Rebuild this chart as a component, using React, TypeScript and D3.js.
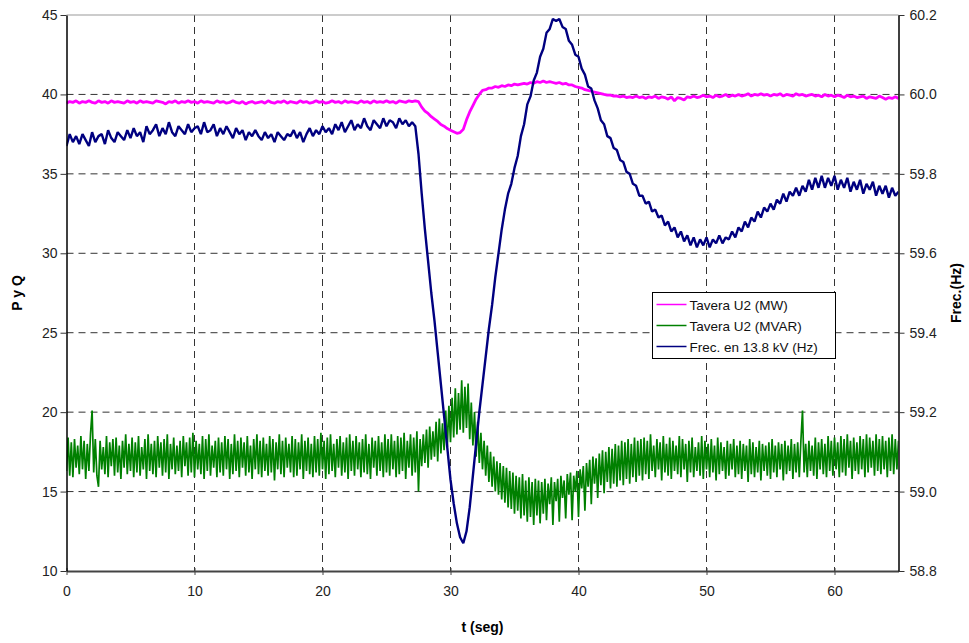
import React, { useEffect, useRef } from "react";
import * as d3 from "d3";

// sample steps of the recorded signals (seconds)
const T_STEP = 0.25;
const MVAR_STEP = 0.125;

const xTicks = [0, 10, 20, 30, 40, 50, 60];
const leftTicks = [10, 15, 20, 25, 30, 35, 40, 45];
const rightTicks = [58.8, 59.0, 59.2, 59.4, 59.6, 59.8, 60.0, 60.2];

const seriesNames = ["Tavera U2 (MW)", "Tavera U2 (MVAR)", "Frec. en 13.8 kV (Hz)"];
const seriesColors = ["#ff00ff", "#008000", "#000080"];

// Tavera U2 (MW), left axis
const mw = [
  39.45, 39.55, 39.5, 39.6, 39.45, 39.55, 39.5, 39.6, 39.5, 39.45, 39.6, 39.5, 39.55, 39.45, 39.6, 39.5, 39.55, 39.5, 39.45, 39.6,
  39.5, 39.55, 39.45, 39.6, 39.5, 39.55, 39.5, 39.45, 39.6, 39.55, 39.5, 39.4, 39.55, 39.5, 39.6, 39.45, 39.55, 39.5, 39.6, 39.5,
  39.55, 39.45, 39.6, 39.5, 39.55, 39.5, 39.45, 39.6, 39.5, 39.55, 39.45, 39.5, 39.6, 39.5, 39.45, 39.55, 39.4, 39.5, 39.55, 39.45,
  39.5, 39.55, 39.45, 39.6, 39.5, 39.45, 39.55, 39.5, 39.6, 39.45, 39.55, 39.5, 39.45, 39.6, 39.5, 39.55, 39.45, 39.5, 39.6, 39.5,
  39.55, 39.45, 39.5, 39.6, 39.5, 39.55, 39.45, 39.6, 39.5, 39.55, 39.5, 39.45, 39.6, 39.5, 39.55, 39.45, 39.6, 39.5, 39.55, 39.5,
  39.6, 39.5, 39.55, 39.45, 39.6, 39.55, 39.5, 39.6, 39.55, 39.6,
  39.55, 39.2, 38.95, 38.8, 38.6, 38.45, 38.3, 38.1, 38.0, 37.85, 37.75, 37.65, 37.55, 37.6, 37.8, 38.4, 38.9, 39.3, 39.7, 40.0,
  40.25, 40.3, 40.4, 40.4, 40.5, 40.45, 40.55, 40.5, 40.6, 40.55, 40.65, 40.6, 40.65, 40.7, 40.65, 40.75, 40.7, 40.8, 40.75, 40.85,
  40.75, 40.8, 40.75, 40.7, 40.75, 40.65, 40.7, 40.6, 40.6, 40.5, 40.45, 40.4, 40.3, 40.25, 40.2, 40.15, 40.1, 40.05, 40.0, 39.95,
  39.95, 39.9, 39.9, 39.85, 39.9, 39.8, 39.85, 39.8, 39.9, 39.8, 39.85,
  39.75, 39.85, 39.8, 39.9, 39.75, 39.85, 39.8, 39.7, 39.85, 39.6, 39.8, 39.75, 39.65, 39.85, 39.8, 39.9, 39.8, 39.85, 39.95, 39.85,
  39.9, 39.8, 39.95, 39.85, 39.9, 40.0, 39.85, 39.95, 39.9, 40.0, 39.9, 39.95, 40.05, 39.9, 40.0, 39.95, 40.05, 39.95, 40.0, 39.9,
  40.0, 39.95, 40.05, 39.9, 40.0, 39.95, 39.9, 40.05, 39.95, 40.0, 39.9, 39.95, 40.0, 39.9, 39.95, 39.85, 40.0, 39.9, 39.95, 39.85,
  39.95, 39.9, 39.8, 39.95, 39.85, 39.9, 39.8, 39.85, 39.9, 39.75, 39.85, 39.8, 39.75, 39.9, 39.8, 39.7, 39.8, 39.75, 39.85, 39.75,
];

// Tavera U2 (MVAR), left axis, sampled every MVAR_STEP
const mvar = [
  16.3, 18.4, 16.0, 18.1, 15.9, 18.3, 16.5, 17.9, 16.1, 18.5, 16.4, 18.2, 15.8, 18.0, 16.3, 18.6, 20.1, 16.2, 18.3, 16.0,
  15.3, 18.2, 16.4, 17.8, 16.1, 18.5, 15.9, 18.1, 16.6, 18.3, 16.0, 18.4, 16.2, 17.9, 15.8, 18.2, 16.5, 18.6, 16.1, 18.0,
  16.3, 18.4, 15.9, 18.1, 16.2, 18.5, 16.0, 17.8, 16.4, 18.3, 15.8, 18.6, 16.3, 18.0, 16.1, 18.2, 15.9, 18.5, 16.5, 18.1,
  16.0, 18.3, 16.2, 18.6, 15.8, 18.0, 16.4, 18.4, 16.1, 17.9, 16.3, 18.2, 15.9, 18.5, 16.6, 18.1, 16.0, 18.4, 16.2, 18.7,
  15.9, 18.2, 16.4, 18.0, 16.1, 18.5, 15.8, 18.3, 16.3, 18.6, 16.0, 17.9, 16.5, 18.2, 15.9, 18.4, 16.2, 18.1, 16.0, 18.5,
  16.4, 18.3, 15.8, 18.0, 16.1, 18.6, 16.3, 18.2, 15.9, 18.4, 16.5, 18.1, 16.0, 18.5, 16.2, 17.9, 15.8, 18.3, 16.4, 18.6,
  16.1, 18.2, 15.9, 18.4, 16.3, 18.0, 16.0, 18.5, 16.2, 18.3, 15.7, 18.1, 16.4, 18.6, 16.1, 18.2, 15.9, 18.4, 16.5, 18.0,
  16.2, 18.5, 15.9, 18.3, 16.0, 18.1, 16.4, 18.6, 15.8, 18.2, 16.3, 18.4, 16.1, 18.0, 15.9, 18.5, 16.2, 18.3, 16.0, 18.7,
  16.4, 18.2, 15.8, 18.4, 16.1, 18.6, 16.3, 18.0, 15.9, 18.3, 16.5, 18.5, 16.0, 18.1, 16.2, 18.4, 15.8, 18.6, 16.3, 18.2,
  16.0, 18.5, 16.4, 18.1, 15.9, 18.3, 16.2, 18.6, 16.1, 18.0, 15.8, 18.4, 16.5, 18.2, 16.0, 18.5, 16.3, 18.1, 15.9, 18.6,
  16.2, 18.3, 16.0, 18.6, 16.4, 18.2, 15.9, 18.5, 16.1, 18.4, 16.3, 18.7, 15.8, 18.2, 16.5, 18.6, 16.0, 18.4, 16.2, 18.8,
  15.0, 18.3, 16.6, 18.6, 16.8, 18.9, 16.5, 19.1, 17.0, 18.8, 17.2, 19.4, 16.9, 19.6, 17.4, 19.3, 17.6, 20.1, 17.8, 20.4,
  18.1, 20.9, 18.4, 21.5, 18.6, 21.2, 18.9, 22.0, 18.7, 21.6, 19.0, 21.8, 18.3, 20.6, 17.9, 20.0, 17.2, 19.4, 16.8, 18.7,
  16.4, 18.2, 16.0, 17.9, 15.6, 17.5, 15.3, 17.2, 15.0, 16.9, 14.8, 16.8, 14.5, 16.6, 14.3, 16.5, 14.0, 16.3, 13.9, 16.2,
  13.6, 16.0, 13.8, 15.9, 13.3, 16.1, 13.5, 15.7, 13.1, 15.9, 13.4, 15.6, 12.9, 15.8, 13.5, 15.7, 13.0, 15.6, 13.6, 15.8,
  13.2, 15.5, 14.2, 15.9, 12.9, 15.6, 14.4, 15.8, 13.1, 16.0, 14.6, 15.7, 13.3, 16.1, 14.8, 16.2, 13.2, 16.0, 15.0, 16.3,
  13.4, 16.4, 15.2, 16.6, 13.8, 16.8, 15.3, 17.0, 14.2, 17.2, 15.5, 17.1, 14.6, 17.4, 15.4, 17.6, 14.9, 17.5, 15.6, 17.8,
  15.2, 17.7, 15.5, 18.0, 15.3, 17.9, 15.7, 18.2, 15.4, 18.1, 15.8, 18.3, 15.5, 18.0, 15.9, 18.4, 15.6, 18.2, 16.0, 18.3,
  15.7,
  18.4, 16.1, 18.2, 15.8, 18.6, 16.3, 17.9, 15.9, 18.3, 16.4, 18.1, 15.7, 18.5, 16.2, 18.0, 16.0, 18.4, 15.8, 18.2, 16.3,
  17.9, 16.1, 18.5, 15.9, 18.3, 16.4, 18.0, 15.6, 18.2, 16.2, 18.4, 15.9, 17.8, 16.3, 18.1, 16.0, 18.5, 15.8, 18.2, 16.4,
  18.0, 15.9, 18.3, 16.2, 17.9, 15.7, 18.4, 16.1, 18.1, 16.3, 17.8, 15.8, 18.2, 16.0, 18.0, 16.4, 18.3, 15.9, 17.9, 16.1,
  18.2, 15.8, 18.0, 16.3, 17.9, 15.6, 18.3, 16.1, 18.1, 15.9, 17.8, 16.2, 18.2, 15.7, 18.0, 16.3, 17.9, 16.0, 18.1, 15.8,
  18.3, 16.2, 17.9, 15.9, 18.1, 16.4, 18.0, 15.7, 18.2, 16.1, 17.9, 16.3, 18.3, 15.8, 18.0, 16.2, 18.1, 15.9, 18.2, 20.1,
  16.2, 18.0, 15.9, 18.2, 16.3, 17.9, 16.0, 18.4, 15.8, 18.1, 16.4, 18.3, 16.1, 18.0, 15.9, 18.5, 16.3, 18.2, 16.0, 18.4,
  16.4, 18.1, 15.9, 18.5, 16.2, 18.3, 16.0, 18.6, 16.5, 18.2, 15.8, 18.4, 16.3, 18.1, 16.1, 18.5, 16.4, 18.3, 15.9, 18.6,
  16.2, 18.4, 16.5, 18.2, 16.0, 18.6, 16.3, 18.3, 16.1, 18.5, 16.4, 18.2, 15.9, 18.4, 16.3, 18.6, 16.1, 18.3, 16.4, 18.2,
];

// Frec. en 13.8 kV (Hz), right axis
const freq = [
  59.87, 59.9, 59.88, 59.895, 59.875, 59.9, 59.885, 59.87, 59.905, 59.88, 59.895, 59.9, 59.875, 59.91, 59.89, 59.88, 59.905, 59.895, 59.885, 59.91,
  59.89, 59.915, 59.895, 59.905, 59.88, 59.92, 59.9, 59.91, 59.925, 59.895, 59.915, 59.9, 59.93, 59.905, 59.895, 59.92, 59.91, 59.9, 59.925, 59.905,
  59.915, 59.92, 59.9, 59.93, 59.905, 59.91, 59.925, 59.895, 59.915, 59.9, 59.92, 59.905, 59.89, 59.915, 59.9, 59.91, 59.885, 59.905, 59.895, 59.91,
  59.895, 59.885, 59.905, 59.89, 59.9, 59.88, 59.905, 59.895, 59.885, 59.9, 59.895, 59.91, 59.89, 59.905, 59.88, 59.9, 59.915, 59.895, 59.91, 59.9,
  59.92, 59.905, 59.915, 59.9, 59.925, 59.91, 59.93, 59.905, 59.92, 59.935, 59.91, 59.925, 59.915, 59.94, 59.92, 59.91, 59.935, 59.925, 59.915, 59.94,
  59.92, 59.935, 59.93, 59.915, 59.94, 59.925, 59.935, 59.92, 59.93, 59.92,
  59.85, 59.75, 59.66, 59.58, 59.5, 59.43, 59.35, 59.27, 59.19, 59.11, 59.03, 58.97, 58.92, 58.885, 58.87, 58.9, 58.96, 59.04, 59.12, 59.2,
  59.27, 59.34, 59.41, 59.47, 59.54, 59.6, 59.66, 59.71, 59.75, 59.775, 59.815, 59.845, 59.895, 59.925, 59.975, 59.995, 60.035, 60.055, 60.095, 60.115,
  60.155, 60.165, 60.19, 60.185, 60.19, 60.17, 60.165, 60.135, 60.125, 60.1, 60.095, 60.065, 60.05, 60.02, 60.015, 59.985, 59.965, 59.935, 59.925, 59.895,
  59.89, 59.865, 59.86, 59.835, 59.83, 59.805, 59.8, 59.775, 59.77, 59.745, 59.745,
  59.725, 59.73, 59.705, 59.71, 59.69, 59.695, 59.67, 59.68, 59.655, 59.665, 59.64, 59.655, 59.63, 59.645, 59.62, 59.64, 59.615, 59.635, 59.62, 59.64,
  59.615, 59.635, 59.625, 59.645, 59.625, 59.64, 59.635, 59.655, 59.64, 59.665, 59.655, 59.68, 59.665, 59.69, 59.68, 59.705, 59.69, 59.715, 59.705, 59.725,
  59.71, 59.735, 59.725, 59.75, 59.73, 59.755, 59.745, 59.765, 59.745, 59.77, 59.755, 59.785, 59.76, 59.79, 59.765, 59.795, 59.765, 59.79, 59.77, 59.795,
  59.76, 59.785, 59.765, 59.79, 59.755, 59.78, 59.76, 59.785, 59.75, 59.775, 59.76, 59.78, 59.745, 59.77, 59.75, 59.77, 59.74, 59.765, 59.745, 59.755,
];

const FONT = "'Liberation Sans', Arial, sans-serif";

const Chart = ({ width, height }) => {
  const svgRef = useRef(null);

  useEffect(() => {
    const margin = { top: 15, right: 70.5, bottom: 72, left: 66.5 };
    const innerWidth = width - margin.left - margin.right;
    const innerHeight = height - margin.top - margin.bottom;

    const svg = d3.select(svgRef.current).attr("width", width).attr("height", height);
    svg.selectAll("*").remove();

    const g = svg.append("g").attr("transform", `translate(${margin.left},${margin.top})`);

    const xScale = d3.scaleLinear().domain([0, 65]).range([0, innerWidth]);
    const yLeft = d3.scaleLinear().domain([10, 45]).range([innerHeight, 0]);
    const yRight = d3.scaleLinear().domain([58.8, 60.2]).range([innerHeight, 0]);

    // dashed gridlines
    g.selectAll(".hgrid")
      .data(leftTicks.filter((d) => d > 10 && d < 45))
      .enter()
      .append("line")
      .attr("x1", 0)
      .attr("x2", innerWidth)
      .attr("y1", (d) => yLeft(d))
      .attr("y2", (d) => yLeft(d))
      .style("stroke", "#333")
      .style("stroke-width", 1)
      .style("stroke-dasharray", "7,5");

    g.selectAll(".vgrid")
      .data(xTicks.filter((d) => d > 0))
      .enter()
      .append("line")
      .attr("x1", (d) => xScale(d))
      .attr("x2", (d) => xScale(d))
      .attr("y1", 0)
      .attr("y2", innerHeight)
      .style("stroke", "#333")
      .style("stroke-width", 1)
      .style("stroke-dasharray", "7,5");

    // top border
    g.append("line")
      .attr("x1", 0)
      .attr("x2", innerWidth)
      .attr("y1", 0)
      .attr("y2", 0)
      .style("stroke", "#999")
      .style("stroke-width", 1);

    // lines, clipped to the plot area
    svg
      .append("defs")
      .append("clipPath")
      .attr("id", "plot-clip")
      .append("rect")
      .attr("x", 0)
      .attr("y", -2)
      .attr("width", innerWidth)
      .attr("height", innerHeight + 4);

    const plot = g.append("g").attr("clip-path", "url(#plot-clip)");

    const lineMvar = d3
      .line()
      .x((d, i) => xScale(i * MVAR_STEP))
      .y((d) => yLeft(d));
    const lineLeft = d3
      .line()
      .x((d, i) => xScale(i * T_STEP))
      .y((d) => yLeft(d));
    const lineRight = d3
      .line()
      .x((d, i) => xScale(i * T_STEP))
      .y((d) => yRight(d));

    plot
      .append("path")
      .attr("d", lineMvar(mvar))
      .style("fill", "none")
      .style("stroke", seriesColors[1])
      .style("stroke-width", 1.7)
      .style("stroke-linejoin", "bevel");

    plot
      .append("path")
      .attr("d", lineLeft(mw))
      .style("fill", "none")
      .style("stroke", seriesColors[0])
      .style("stroke-width", 2.8)
      .style("stroke-linejoin", "bevel");

    plot
      .append("path")
      .attr("d", lineRight(freq))
      .style("fill", "none")
      .style("stroke", seriesColors[2])
      .style("stroke-width", 2.4)
      .style("stroke-linejoin", "bevel");

    // axes
    const xAxis = d3.axisBottom(xScale).tickValues(xTicks).tickSize(5).tickSizeOuter(0);
    const xg = g.append("g").attr("transform", `translate(0, ${innerHeight})`).call(xAxis);
    xg.select(".domain").style("stroke", "#444").style("stroke-width", 2);
    xg.selectAll(".tick line").attr("y1", -3).attr("y2", 4).style("stroke", "#444");
    xg.selectAll("text")
      .attr("y", 15)
      .style("font-family", FONT)
      .style("font-size", "14px")
      .style("fill", "#222");

    const yAxisL = d3.axisLeft(yLeft).tickValues(leftTicks).tickSize(6).tickSizeOuter(0);
    const yl = g.append("g").call(yAxisL);
    yl.select(".domain").style("stroke", "#000").style("stroke-width", 1.5);
    yl.selectAll(".tick line").style("stroke", "#333");
    yl.selectAll("text")
      .attr("x", -9)
      .style("font-family", FONT)
      .style("font-size", "14px")
      .style("fill", "#222");

    const yAxisR = d3
      .axisRight(yRight)
      .tickValues(rightTicks)
      .tickFormat(d3.format(".1f"))
      .tickSize(6)
      .tickSizeOuter(0);
    const yr = g.append("g").attr("transform", `translate(${innerWidth},0)`).call(yAxisR);
    yr.select(".domain").style("stroke", "#000").style("stroke-width", 1.5);
    yr.selectAll(".tick line").style("stroke", "#333");
    yr.selectAll("text")
      .attr("x", 11)
      .style("font-family", FONT)
      .style("font-size", "14px")
      .style("fill", "#222");

    // axis titles
    svg
      .append("text")
      .attr("x", margin.left + xScale(32.5))
      .attr("y", 632)
      .attr("text-anchor", "middle")
      .style("font-family", FONT)
      .style("font-size", "14px")
      .style("font-weight", "bold")
      .text("t (seg)");

    svg
      .append("text")
      .attr("transform", `translate(22, ${margin.top + innerHeight / 2}) rotate(-90)`)
      .attr("text-anchor", "middle")
      .style("font-family", FONT)
      .style("font-size", "14px")
      .style("font-weight", "bold")
      .text("P y Q");

    svg
      .append("text")
      .attr("transform", `translate(961, ${margin.top + innerHeight / 2}) rotate(-90)`)
      .attr("text-anchor", "middle")
      .style("font-family", FONT)
      .style("font-size", "14px")
      .style("font-weight", "bold")
      .text("Frec.(Hz)");

    // legend
    const legend = svg.append("g").attr("transform", "translate(652.5, 292.5)");
    legend
      .append("rect")
      .attr("width", 183)
      .attr("height", 66)
      .style("fill", "#fff")
      .style("stroke", "#000")
      .style("stroke-width", 1);

    const rows = legend
      .selectAll(".legend-row")
      .data(seriesNames)
      .enter()
      .append("g")
      .attr("transform", (d, i) => `translate(0, ${12 + i * 21})`);

    rows
      .append("line")
      .attr("x1", 4)
      .attr("x2", 34)
      .attr("y1", 0)
      .attr("y2", 0)
      .style("stroke", (d, i) => seriesColors[i])
      .style("stroke-width", 1.5);

    rows
      .append("text")
      .attr("x", 37)
      .attr("y", 5)
      .style("font-family", FONT)
      .style("font-size", "13.5px")
      .style("fill", "#111")
      .text((d) => d);
  }, [width, height]);

  return <svg ref={svgRef} style={{ position: "absolute", left: 0, top: 0 }}></svg>;
};

export default function App() {
  return <Chart width={969} height={643} />;
}
